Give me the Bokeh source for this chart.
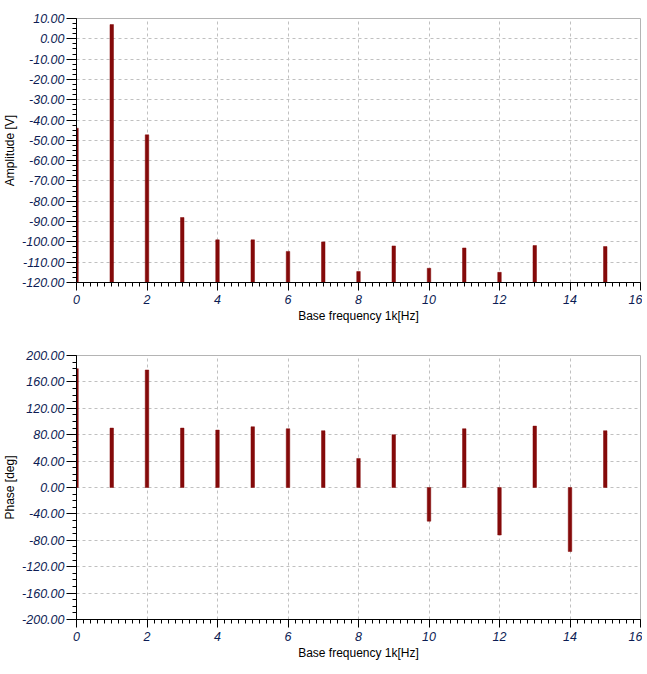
from bokeh.plotting import figure
from bokeh.layouts import column
from bokeh.models import Range1d, SingleIntervalTicker, NumeralTickFormatter
from bokeh.embed import file_html
from bokeh.resources import INLINE

# data
amp_freq = [0, 1, 2, 3, 4, 5, 6, 7, 8, 9, 10, 11, 12, 13, 15]
amplitude = [-44, 7, -47.3, -88, -99, -99, -104.7, -100, -114.6, -102, -113, -103, -115, -101.8, -102.3]
phase_freq = [0, 1, 2, 3, 4, 5, 6, 7, 8, 9, 10, 11, 12, 13, 14, 15]
phase = [180, 90, 178, 90, 87, 92, 89, 86, 44, 80, -51, 89, -72, 93, -97, 86]

x_label = "Base frequency 1k[Hz]"
BAR = "#840a0a"
FONT = "Liberation Sans"
TICK_COLOR = "#0c1c54"


def make_fig(ymin, ymax, yint, ylabel, top_border, bottom_border):
    p = figure(frame_width=564, frame_height=264, output_backend="svg",
               toolbar_location=None, x_range=Range1d(0, 16),
               y_range=Range1d(ymin, ymax),
               min_border_left=67, min_border_right=2, min_border_top=top_border,
               min_border_bottom=bottom_border)
    p.background_fill_color = "white"
    p.border_fill_color = "white"
    p.outline_line_color = "#b4b4b4"
    p.outline_line_width = 1

    xt = SingleIntervalTicker(interval=2, num_minor_ticks=10)
    yt = SingleIntervalTicker(interval=yint, num_minor_ticks=4)
    p.xaxis.ticker = xt
    p.yaxis.ticker = yt
    p.xgrid.ticker = xt
    p.ygrid.ticker = yt
    p.yaxis.formatter = NumeralTickFormatter(format="0.00")

    for g in (p.xgrid, p.ygrid):
        g.grid_line_color = "#c0c0c0"
        g.grid_line_dash = "3 3"
        g.grid_line_width = 1

    for ax in (p.xaxis, p.yaxis):
        ax.axis_line_color = "black"
        ax.major_tick_line_color = "black"
        ax.minor_tick_line_color = "black"
        ax.major_tick_in = 0
        ax.minor_tick_in = 0
        ax.minor_tick_out = 4
        ax.major_label_text_font = FONT
        ax.major_label_text_font_style = "italic"
        ax.major_label_text_font_size = "12.5px"
        ax.major_label_text_color = TICK_COLOR
        ax.axis_label_text_font = FONT
        ax.axis_label_text_font_style = "normal"
        ax.axis_label_text_font_size = "12px"
        ax.axis_label_text_color = "black"
        ax.axis_label_standoff = 2
    p.yaxis.major_tick_out = 10
    p.yaxis.major_label_standoff = 2
    p.xaxis.major_tick_out = 8
    p.xaxis.major_label_standoff = 4
    p.xaxis.axis_label = x_label
    p.yaxis.axis_label = ylabel
    return p


p1 = make_fig(-120, 10, 10, "Amplitude [V]", 18, 63)
p1.vbar(x=amp_freq, top=amplitude, bottom=-120, width=0.1,
        fill_color=BAR, line_color=BAR, line_width=0.5)

p2 = make_fig(-200, 200, 40, "Phase [deg]", 10, 47)
p2.vbar(x=phase_freq, top=phase, bottom=0, width=0.1,
        fill_color=BAR, line_color=BAR, line_width=0.5)

layout = column(p1, p2, spacing=0)
open("out.html", "w").write(file_html(layout, INLINE))
